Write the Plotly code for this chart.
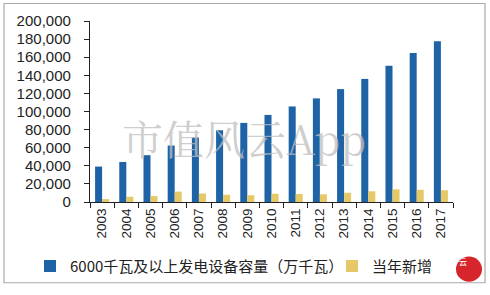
import plotly.graph_objects as go

years = [str(y) for y in range(2003, 2018)]
capacity = [39141, 44239, 51718, 62370, 71329, 79253, 87407, 96219, 105576, 114491, 124738, 136019, 150673, 164575, 177703]
new_add = [3200, 5800, 6500, 11500, 9400, 8000, 7500, 9100, 8900, 8500, 10200, 11800, 14000, 13500, 13000]
yticks = list(range(0, 200001, 20000))
ytick_text = [f"{v:,}" for v in yticks]

W, H = 490, 295
L, R, T, B = 90, 37, 21, 88
pw, ph = W - L - R, H - T - B

fig = go.Figure()
fig.add_trace(go.Bar(x=years, y=capacity, name="6000千瓦及以上发电设备容量（万千瓦）",
                     marker_color="#1d63a6", marker_line_width=0, legend="legend"))
fig.add_trace(go.Bar(x=years, y=new_add, name="当年新增",
                     marker_color="#e6c867", marker_line_width=0, legend="legend2"))

font_num = "Liberation Sans, Arial, sans-serif"
leg_font = dict(family="Noto Sans CJK SC, " + font_num, size=15, color="#222")
leg_y = (H - B - 273) / ph
fig.update_layout(
    width=W, height=H, margin=dict(l=L, r=R, t=T, b=B),
    paper_bgcolor="white", plot_bgcolor="white",
    barmode="group", bargap=0.42, bargroupgap=0,
    showlegend=True,
    legend=dict(orientation="h", x=(30 - L) / pw, xanchor="left", y=leg_y, yanchor="middle",
                font=leg_font, bgcolor="rgba(0,0,0,0)"),
    legend2=dict(orientation="h", x=(332 - L) / pw, xanchor="left", y=leg_y, yanchor="middle",
                 font=leg_font, bgcolor="rgba(0,0,0,0)"),
    xaxis=dict(type="category", showline=True, linecolor="#222", linewidth=1.3,
               ticks="outside", tickson="boundaries", ticklen=5, tickcolor="#222",
               tickangle=-90, tickfont=dict(family=font_num, size=13.5, color="#222"),
               showgrid=False, automargin=False),
    yaxis=dict(range=[0, 200000], tickvals=yticks, ticktext=ytick_text,
               showline=True, linecolor="#222", linewidth=1.3,
               ticks="outside", ticklen=5, tickcolor="#222", ticklabelstandoff=10,
               tickfont=dict(family=font_num, size=15, color="#222"),
               showgrid=False, zeroline=False, automargin=False),
)

# outer frame
fig.add_shape(type="rect", xref="paper", yref="paper",
              x0=(4 - L) / pw, x1=(485 - L) / pw, y0=(H - B - 290) / ph, y1=(H - B - 3) / ph,
              line=dict(color="#aaaaaa", width=1.2), fillcolor="rgba(0,0,0,0)", layer="below")

# watermark
fig.add_annotation(text="市值风云App", xref="paper", yref="paper",
                   x=(244 - L) / pw, y=(H - B - 141) / ph, yanchor="middle", showarrow=False,
                   font=dict(family="Noto Serif CJK SC, Noto Sans CJK SC, serif", size=41, color="rgba(190,190,190,0.75)"))

# logo
cx, cy, r = 469, 276, 13
fig.add_shape(type="circle", xref="paper", yref="paper",
              x0=(cx - r - L) / pw, x1=(cx + r - L) / pw,
              y0=(H - B - (cy + r)) / ph, y1=(H - B - (cy - r)) / ph,
              line=dict(width=0), fillcolor="#d7262b")
fig.add_annotation(text="风<br>云", xref="paper", yref="paper", x=(cx - L) / pw, y=(H - B - cy) / ph,
                   showarrow=False, font=dict(size=8, color="white", family="Noto Sans CJK SC"))

fig.write_html("out.html")
